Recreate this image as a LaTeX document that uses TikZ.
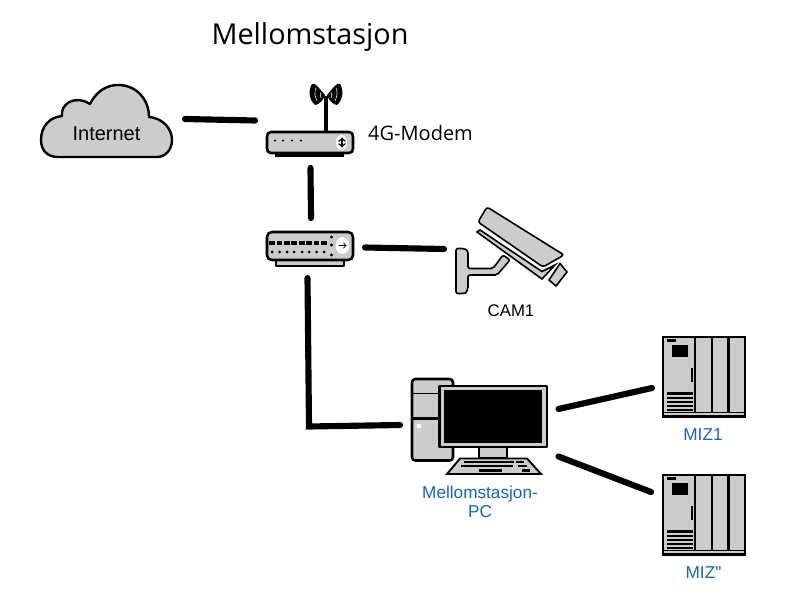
\documentclass[tikz,border=0pt]{standalone}
\usepackage{fontspec}
\setmainfont{Liberation Sans}
\newfontfamily\titlefont{Open Sans}
\newfontfamily\labelfont{Liberation Sans}
\definecolor{devgray}{HTML}{CCCCCC}
\definecolor{labelblue}{HTML}{1565C8}
\tikzset{
  dev/.style={draw=black,fill=devgray,line width=1.9pt,line join=round},
  thin dev/.style={draw=black,fill=devgray,line width=1.2pt,line join=miter},
  link/.style={draw=black,line width=4.6pt,line cap=round,line join=miter},
  anchorbox/.style={inner sep=0pt,minimum size=0pt},
  bluelabel/.style={text=labelblue,font=\labelfont\fontsize{12.9}{14.5}\selectfont,align=center,anchor=center},
  pics/plc/.style={code={
    \fill[devgray] (662,336) rectangle (745,417);
    \draw[black,line width=1.9pt] (663,337) rectangle (745,416.5);
    \draw[black,line width=1.9pt] (695,336) -- (695,412) (712,336) -- (712,412) (728.5,336) -- (728.5,412);
    \draw[black,line width=1.4pt] (662,412.5) -- (745,412.5);
    \fill[black] (667,339) rectangle (676,342);
    \fill[black] (672,345) rectangle (688,357);
    \fill[black] (691,368) rectangle (693,382);
    \fill[black] (667,392) rectangle (693,395);
    \foreach \vy in {398,402,406,410} {\fill[black] (667,\vy-0.9) rectangle (693,\vy+0.9);}
  }}
}
\begin{document}
\begin{tikzpicture}[x=0.75pt,y=-0.75pt]
\useasboundingbox (0,0) rectangle (789,606);
\fill[white] (0,0) rectangle (789,606);

% title
\node[anchor=center,font=\titlefont\fontsize{21.6}{24}\selectfont] (title) at (310,37.5) {Mellomstasjon};

% cloud
\draw[dev,line width=1.8pt] (58,157)
  .. controls (47,157) and (41,150) .. (41,140)
  .. controls (41,126) and (50,117) .. (62,116)
  .. controls (60,105) and (74,94) .. (90,104)
  .. controls (96,92) and (106,85) .. (118,85)
  .. controls (137,85) and (149,100) .. (149,117)
  .. controls (162,118) and (172,128) .. (172,140)
  .. controls (172,150) and (165,157) .. (157,157) -- cycle;
\node[anchorbox,font=\fontsize{15}{17}\selectfont] (internet) at (106.5,134) {Internet};

% modem
\draw[black,line width=3pt] (326,96) -- (326,131);
\fill[black] (325,95) .. controls (318,87) and (315,82) .. (312,84)
  .. controls (308,90) and (309,100) .. (315,105) .. controls (319,105) and (324,99) .. (325,95) -- cycle;
\fill[black] (327,95) .. controls (334,87) and (337,82) .. (340,84)
  .. controls (344,90) and (343,100) .. (337,105) .. controls (333,105) and (328,99) .. (327,95) -- cycle;
\draw[white,line width=0.4pt] (316,88) .. controls (314,92) and (315,97) .. (317,101) (321,92) .. controls (320,94) and (320,96) .. (321,98)
  (336,88) .. controls (338,92) and (337,97) .. (335,101) (331,92) .. controls (332,94) and (332,96) .. (331,98);
\fill[black] (275,152) rectangle (344,157);
\draw[dev] (271,132) -- (349,132) .. controls (352,132) and (353,134) .. (353,137) -- (353,148) .. controls (353,151) and (352,153) .. (349,153) -- (271,153) .. controls (268,153) and (267,151) .. (267,148) -- (267,137) .. controls (267,134) and (268,132) .. (271,132) -- cycle;
\foreach \dx in {275,283,292,301} {\fill[black] (\dx,140.5) circle (1.1);}
\fill[white] (341.5,142.5) ellipse (5.5 and 7.5);
\draw[black,line width=1.1pt,<->,>=to] (342,137.5) -- (342,147.5);
\node[anchorbox] (modem) at (310,143) {};
\node[anchorbox,font=\titlefont\fontsize{15}{17}\selectfont] (modemlabel) at (420.5,133) {4G-Modem};

% switch
\draw[dev,line width=1.4pt] (276,258) rectangle (344,266);
\draw[dev] (272,232) -- (348,232) .. controls (351,232) and (353,234) .. (353,237) -- (353,255) .. controls (353,258) and (351,260) .. (348,260) -- (272,260) .. controls (269,260) and (267,258) .. (267,255) -- (267,237) .. controls (267,234) and (269,232) .. (272,232) -- cycle;
\foreach \dx in {272,279.5,287,294,302,309,316.5,324} {
  \fill[black] (\dx-2.6,241) rectangle (\dx+2.6,244.5);
  \fill[black] (\dx,252) circle (1.5);
}
\foreach \dy in {237,245,255} {\fill[black] (331.5,\dy) circle (1.6);}
\fill[white] (342.5,245.5) ellipse (6.8 and 8.5);
\draw[black,line width=0.7pt,->,>=to] (338.5,245.5) -- (346.5,245.5);
\node[anchorbox] (switch) at (310,246) {};

% camera
\draw[thin dev,rounded corners=2pt] (487,207) -- (564,255) -- (543,267) -- (478,222) -- cycle;
\draw[thin dev] (477,232) -- (480,230) -- (542,271.5) -- (555,265) -- (542,279) -- cycle;
\draw[thin dev] (560,263.5) -- (567,272) -- (556,286) -- (549,280) -- cycle;
\draw[thin dev,rounded corners=1.5pt] (456,248.5) -- (464,248.5) .. controls (467,250) and (468,252) .. (468,255) -- (468,268.5) -- (493,268.5) -- (503,255) -- (510,260) -- (497,275) -- (468,275) -- (468,285) .. controls (468,290) and (466,293) .. (463,293.5) -- (456,293.5) -- cycle;
\node[anchorbox] (camera) at (500,250) {};
\node[anchorbox,font=\fontsize{12.6}{14}\selectfont] (camlabel) at (511,311) {CAM1};

% computer
\draw[dev,rounded corners=2.5pt] (412,379) rectangle (453,460.5);
\draw[black,line width=1.4pt] (412,393.5) -- (453,393.5);
\draw[black,line width=1.8pt] (412,418.5) -- (453,418.5);
\fill[white] (419,426) circle (2.4);
\draw[thin dev] (479,447) rectangle (507,458);
\draw[dev,line width=1.6pt] (439.5,386) rectangle (547,447);
\fill[black] (443.5,390) rectangle (542,443);
\draw[thin dev,line width=1.4pt] (460,458.5) -- (527,458.5) -- (541,474) -- (447,474) -- cycle;
\fill[black] (464,460.5) rectangle (514,462.5);
\fill[black] (516,460.5) rectangle (524,462.5);
\fill[black] (461,465) rectangle (513,467);
\fill[black] (518,465) rectangle (527,467);
\fill[black] (479,469) rectangle (502,471.5);
\fill[black] (522,469) rectangle (530,471.5);
\node[anchorbox] (pc) at (480,425) {};
\node[bluelabel] (pclabel) at (480,502) {Mellomstasjon-\\[-0.6pt]PC};

% MIZ
\pic (mizone) at (0,0) {plc};
\pic (miztwo) at (0,138) {plc};
\node[anchorbox] (miz1) at (703,376) {};
\node[anchorbox] (miz2) at (703,514) {};
\node[bluelabel] (miz1label) at (703,435) {MIZ1};
\node[bluelabel] (miz2label) at (703.5,572.5) {MIZ"};

% connector ends
\coordinate (a1) at (185,119); \coordinate (a2) at (255,120.5);
\coordinate (b1) at (310.5,168); \coordinate (b2) at (311,218);
\coordinate (c1) at (365,247.5); \coordinate (c2) at (444,249);
\coordinate (d1) at (307.5,278); \coordinate (d2) at (309,426.5); \coordinate (d3) at (400,425);
\coordinate (e1) at (558.5,409); \coordinate (e2) at (652,388);
\coordinate (f1) at (558.5,456.5); \coordinate (f2) at (651,492);

\draw[link] (a1) -- (a2);
\draw[link] (b1) -- (b2);
\draw[link] (c1) -- (c2);
\draw[link] (d1) -- (d2) -- (d3);
\draw[link] (e1) -- (e2);
\draw[link] (f1) -- (f2);
\end{tikzpicture}
\end{document}
